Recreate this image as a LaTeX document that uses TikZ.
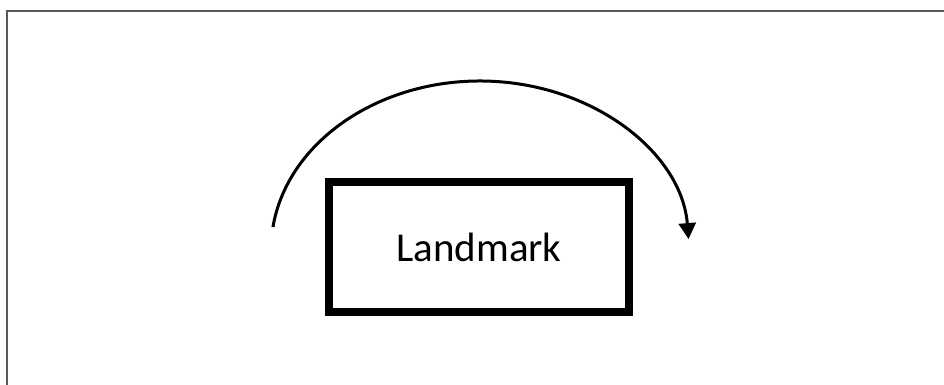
\documentclass[tikz,border=0pt]{standalone}
\usepackage{fontspec}
\setmainfont{Carlito}
\usetikzlibrary{arrows.meta,calc}
\tikzset{
  frameline/.style={draw=black!65, line width=1.5pt},
  landbox/.style={draw=black, line width=8pt, minimum width=300pt, minimum height=130pt, inner sep=0pt, font=\fontsize{41}{48}\selectfont},
  movearc/.style={draw=black, line width=3pt, -{Triangle[length=16pt,width=17pt]}}
}
\begin{document}
\begin{tikzpicture}[x=1pt,y=1pt]
\useasboundingbox (0,0) rectangle (944,385);
\coordinate (fbl) at (7,0);
\coordinate (ftl) at (7,374);
\coordinate (ftr) at (944,374);
\draw[frameline] (fbl) -- (ftl) -- (ftr);
\node[landbox] (landmark) at (479,138) {Landmark};
\coordinate (arcstart) at ($(480,135)+(172.2:209 and 169)$);
\draw[movearc] (arcstart) arc[start angle=172.2, end angle=3.7, x radius=209, y radius=169];
\end{tikzpicture}
\end{document}
